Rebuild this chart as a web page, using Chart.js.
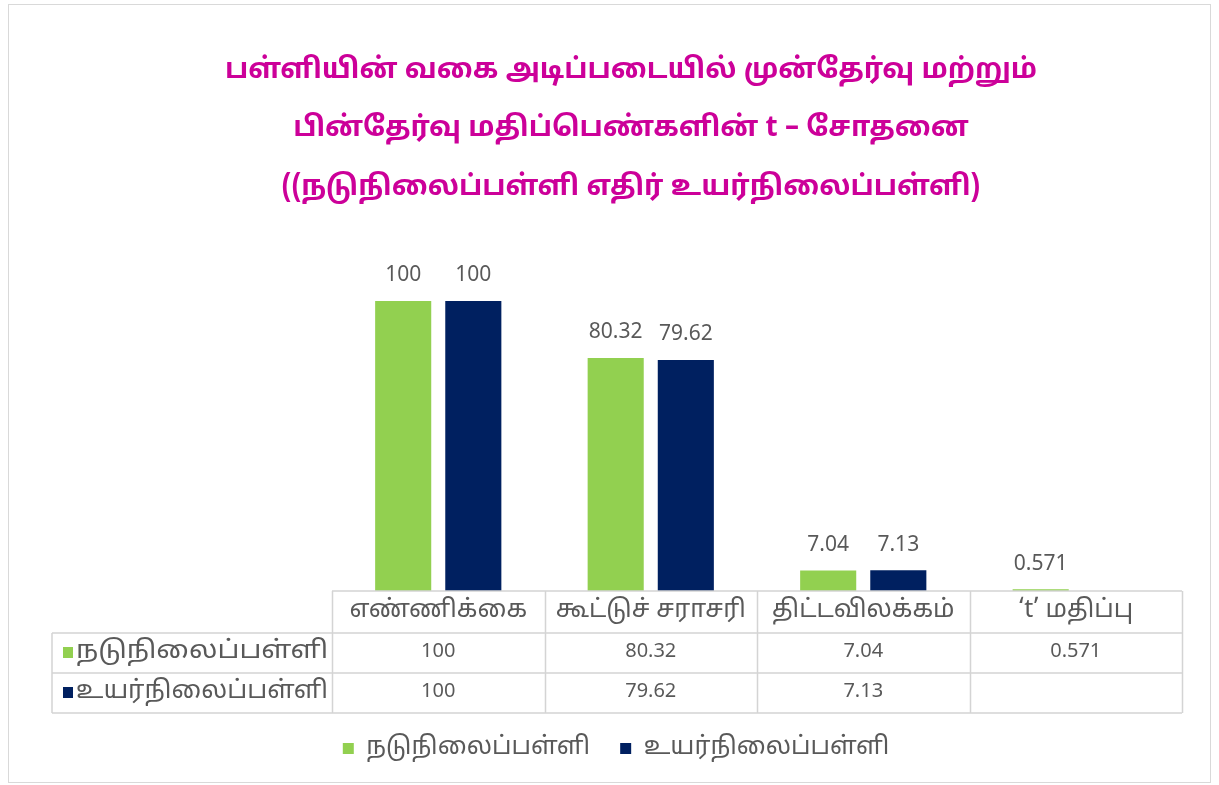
<!DOCTYPE html>
<html><head><meta charset="utf-8">
<script src="https://cdn.jsdelivr.net/npm/chart.js@4.4.1/dist/chart.umd.min.js"></script>
<style>html,body{margin:0;background:#fff}</style>
</head><body>
<canvas id="c" width="1219" height="785"></canvas>
<script>
const titleLines=['பள்ளியின் வகை அடிப்படையில் முன்தேர்வு மற்றும்','பின்தேர்வு மதிப்பெண்களின் t – சோதனை','((நடுநிலைப்பள்ளி எதிர் உயர்நிலைப்பள்ளி)'];
const categories=['எண்ணிக்கை','கூட்டுச் சராசரி','திட்டவிலக்கம்','‘t’ மதிப்பு'];
const seriesNames=['நடுநிலைப்பள்ளி','உயர்நிலைப்பள்ளி'];
const middleSchool=[100,80.32,7.04,0.571];
const highSchool=[100,79.62,7.13,null];
const colors=['#92D050','#002060'];

const FONT="'Noto Sans Tamil','Noto Sans',sans-serif";
const GRID='#d4d4d4';
const TXT='#595959';

// frame + title (title centred on the whole picture, not on the plot)
const framePlugin={id:'frame',beforeDraw(chart){
  const c=chart.ctx;c.save();c.fillStyle='#fff';c.fillRect(0,0,chart.width,chart.height);
  c.strokeStyle='#d9d9d9';c.lineWidth=1;c.strokeRect(8.5,4.5,1202,778);
  c.fillStyle='#CC0099';c.font='bold 28px '+FONT;c.textAlign='center';c.textBaseline='middle';
  titleLines.forEach((t,i)=>c.fillText(t,631,72+i*58.5));
  c.restore();
}};

// value labels above bars
const valuePlugin={id:'values',afterDatasetsDraw(chart){
  const c=chart.ctx;c.save();c.fillStyle=TXT;c.font='21px '+FONT;c.textAlign='center';c.textBaseline='middle';
  chart.data.datasets.forEach((ds,di)=>{
    chart.getDatasetMeta(di).data.forEach((bar,i)=>{
      if(ds.data[i]==null)return;
      c.fillText(String(ds.data[i]),bar.x,bar.y-24);
    });
  });
  c.restore();
}};

// data table under the plot
const tablePlugin={id:'table',afterDraw(chart){
  const c=chart.ctx,x=chart.scales.x,ds=chart.data.datasets;
  const n=categories.length,w=(x.right-x.left)/n;
  const top=chart.chartArea.bottom,h0=42,h=40,leftEdge=52;
  const rows=[top,top+h0,top+h0+h,top+h0+2*h];
  c.save();c.strokeStyle=GRID;c.lineWidth=1.5;
  c.beginPath();
  c.moveTo(x.left,rows[0]);c.lineTo(x.right,rows[0]);
  for(let r=1;r<4;r++){c.moveTo(leftEdge,rows[r]);c.lineTo(x.right,rows[r]);}
  for(let i=0;i<=n;i++){const px=Math.round(x.left+i*w)+0.5;c.moveTo(px,rows[0]);c.lineTo(px,rows[3]);}
  c.moveTo(leftEdge,rows[1]);c.lineTo(leftEdge,rows[3]);
  c.stroke();
  c.fillStyle=TXT;c.textBaseline='middle';c.textAlign='center';
  c.font='25px '+FONT;
  categories.forEach((cat,i)=>c.fillText(cat,x.getPixelForValue(i),(rows[0]+rows[1])/2));
  ds.forEach((d,di)=>{
    const cy=(rows[di+1]+rows[di+2])/2;
    c.textAlign='center';c.font='20px '+FONT;c.fillStyle=TXT;
    d.data.forEach((v,i)=>{if(v!=null)c.fillText(String(v),x.getPixelForValue(i),cy);});
    c.fillStyle=d.backgroundColor;c.fillRect(63,cy-6,10,11);
    c.fillStyle=TXT;c.textAlign='left';c.font='25px '+FONT;
    const sx=Math.min(1.15,252/c.measureText(d.label).width);
    c.save();c.translate(76,cy);c.scale(sx,1);c.fillText(d.label,0,0);c.restore();
  });
  c.restore();
}};

new Chart(document.getElementById('c'),{
  type:'bar',
  data:{labels:categories,datasets:[
    {label:seriesNames[0],data:middleSchool,backgroundColor:colors[0]},
    {label:seriesNames[1],data:highSchool,backgroundColor:colors[1]}
  ]},
  options:{
    responsive:false,animation:false,devicePixelRatio:1,
    barPercentage:0.8,categoryPercentage:0.66,
    layout:{padding:{left:50,right:37,top:243,bottom:14}},
    plugins:{
      title:{display:false},
      legend:{position:'bottom',labels:{color:TXT,font:{family:FONT,size:25},boxWidth:11,boxHeight:11,padding:30}},
      tooltip:{enabled:false}
    },
    scales:{
      x:{grid:{display:false},border:{display:false},ticks:{display:false},afterFit(s){s.height=115;}},
      y:{min:0,max:120,grid:{display:false},border:{display:false},ticks:{display:false},afterFit(s){s.width=282;}}
    }
  },
  plugins:[framePlugin,valuePlugin,tablePlugin]
});
</script>
</body></html>
